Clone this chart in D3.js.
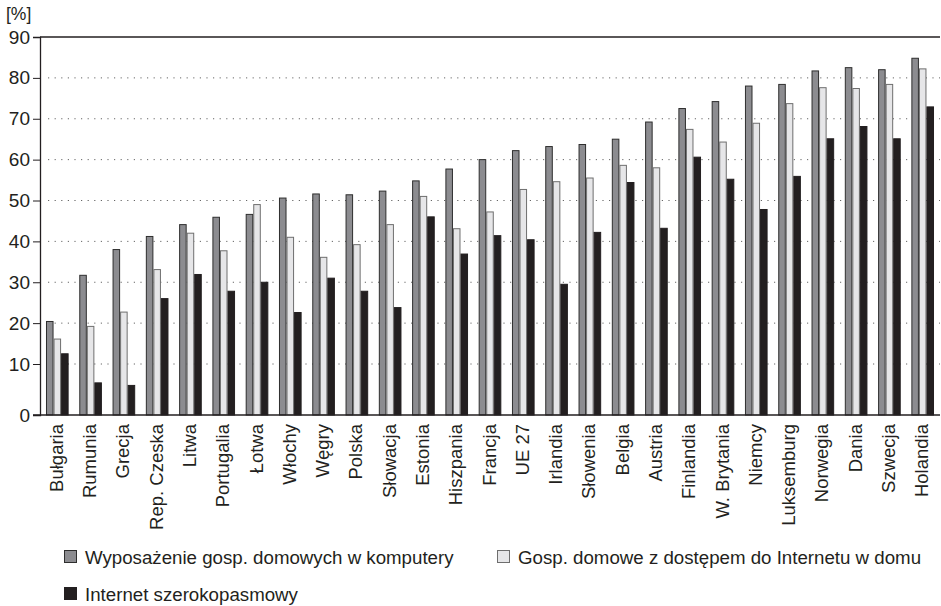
<!DOCTYPE html>
<html lang="pl">
<head>
<meta charset="UTF-8">
<title>Komputery i Internet w gospodarstwach domowych</title>
<script src="https://cdn.jsdelivr.net/npm/d3@7"></script>
<style>
  body { margin: 0; background: #fff; }
  text { font-family: "Liberation Sans", Arial, Helvetica, sans-serif; fill: #231f20; }
</style>
</head>
<body>
<script>
var categories = ['Bułgaria', 'Rumunia', 'Grecja', 'Rep. Czeska', 'Litwa', 'Portugalia', 'Łotwa',
    'Włochy', 'Węgry', 'Polska', 'Słowacja', 'Estonia', 'Hiszpania', 'Francja', 'UE 27',
    'Irlandia', 'Słowenia', 'Belgia', 'Austria', 'Finlandia', 'W. Brytania', 'Niemcy',
    'Luksemburg', 'Norwegia', 'Dania', 'Szwecja', 'Holandia']

var seriesNames = ['Wyposażenie gosp. domowych w komputery',
    'Gosp. domowe z dostępem do Internetu w domu',
    'Internet szerokopasmowy']

var computers = [20.4, 31.7, 38, 41.2, 44.1, 45.9, 46.6, 50.6, 51.6, 51.4, 52.3, 54.8, 57.7, 60,
    62.2, 63.2, 63.7, 65, 69.2, 72.5, 74.2, 78, 78.4, 81.7, 82.5, 82, 84.8]
var internetHome = [16.1, 19.2, 22.7, 33.1, 42, 37.7, 49, 41, 36.1, 39.2, 44.1, 51, 43.1, 47.2,
    52.7, 54.6, 55.5, 58.6, 58, 67.4, 64.3, 68.9, 73.7, 77.6, 77.4, 78.4, 82.2]
var broadband = [12.5, 6.3, 5.8, 26, 31.9, 27.8, 30, 22.6, 31, 27.8, 23.8, 46, 36.9, 41.4,
    40.4, 29.5, 42.2, 54.4, 43.2, 60.6, 55.2, 47.8, 55.9, 65.1, 68.1, 65.1, 72.9]

var yTicks = [0, 10, 20, 30, 40, 50, 60, 70, 80, 90]

var width = 941
var height = 606
var plotLeft = 40, plotRight = 940, plotTop = 37, plotBottom = 415

var svg = d3.select('body')
    .append('svg')
    .attr('width', width)
    .attr('height', height)

// the 0-10 step is drawn taller than the others in the original
var y = d3.scaleLinear()
    .domain([0, 10, 90])
    .range([plotBottom, 364, plotTop])

var x0 = d3.scaleBand()
    .domain(categories)
    .range([plotLeft, plotRight])
    .paddingInner(0.32)
    .paddingOuter(0.18)

var x1 = d3.scaleBand()
    .domain(d3.range(3))
    .range([0, x0.bandwidth()])

var fills = ['#8c8c90', '#e6e6e8', '#231f20']
var strokes = ['#2e2e2e', '#6e6e6e', '#231f20']

// gridlines
svg.append('g')
    .selectAll('line')
    .data(yTicks.filter(function (d) { return d > 0 && d < 90 }))
    .enter()
    .append('line')
    .attr('x1', plotLeft + 8)
    .attr('x2', plotRight)
    .attr('y1', function (d) { return y(d) })
    .attr('y2', function (d) { return y(d) })
    .attr('stroke', '#666')
    .attr('stroke-width', 1)
    .attr('stroke-dasharray', '1.2,5.4')

// bars
var rows = categories.map(function (c, i) {
    return [computers[i], internetHome[i], broadband[i]]
})

var groups = svg.append('g')
    .selectAll('g')
    .data(rows)
    .enter()
    .append('g')
    .attr('transform', function (d, i) { return 'translate(' + x0(categories[i]) + ',0)' })

groups.selectAll('rect')
    .data(function (d) { return d })
    .enter()
    .append('rect')
    .attr('x', function (d, j) { return x1(j) + 0.5 })
    .attr('width', x1.bandwidth() - 1)
    .attr('y', function (d) { return y(d) })
    .attr('height', function (d) { return plotBottom - y(d) })
    .attr('fill', function (d, j) { return fills[j] })
    .attr('stroke', function (d, j) { return strokes[j] })
    .attr('stroke-width', 1)

// frame: top line, left axis, bottom axis
svg.append('line')
    .attr('x1', plotLeft).attr('x2', plotRight)
    .attr('y1', y(90)).attr('y2', y(90))
    .attr('stroke', '#231f20').attr('stroke-width', 1.3)

svg.append('line')
    .attr('x1', plotLeft - 7).attr('x2', plotRight)
    .attr('y1', plotBottom).attr('y2', plotBottom)
    .attr('stroke', '#231f20').attr('stroke-width', 1.3)

var yAxis = d3.axisLeft(y)
    .tickValues(yTicks)
    .tickSize(7)
    .tickPadding(3)

var ya = svg.append('g')
    .attr('transform', 'translate(' + plotLeft + ',0)')
    .call(yAxis)
ya.select('.domain').attr('stroke', '#231f20').attr('stroke-width', 1.3)
ya.selectAll('.tick line').attr('stroke', '#231f20')
ya.selectAll('text')
    .style('font-size', '19px')
    .attr('fill', '#231f20')

svg.append('text')
    .attr('x', 6)
    .attr('y', 20)
    .style('font-size', '17.5px')
    .text('[%]')

// category labels
svg.append('g')
    .selectAll('text')
    .data(categories)
    .enter()
    .append('text')
    .attr('transform', function (d) {
        return 'translate(' + (x0(d) + x0.bandwidth() / 2) + ',424) rotate(-90)'
    })
    .attr('text-anchor', 'end')
    .attr('dy', '0.3em')
    .style('font-size', '18.5px')
    .text(function (d) { return d })

// legend
var legendPos = [[64, 557], [497, 557], [64, 594]]

var legend = svg.append('g')
    .selectAll('g')
    .data(seriesNames)
    .enter()
    .append('g')
    .attr('transform', function (d, i) { return 'translate(' + legendPos[i][0] + ',' + legendPos[i][1] + ')' })

legend.append('rect')
    .attr('x', 0.5)
    .attr('y', -6.5)
    .attr('width', 12)
    .attr('height', 12)
    .attr('fill', function (d, i) { return fills[i] })
    .attr('stroke', function (d, i) { return strokes[i] })

legend.append('text')
    .attr('x', 21)
    .attr('dy', '0.36em')
    .style('font-size', '18.7px')
    .text(function (d) { return d })
</script>
</body>
</html>
